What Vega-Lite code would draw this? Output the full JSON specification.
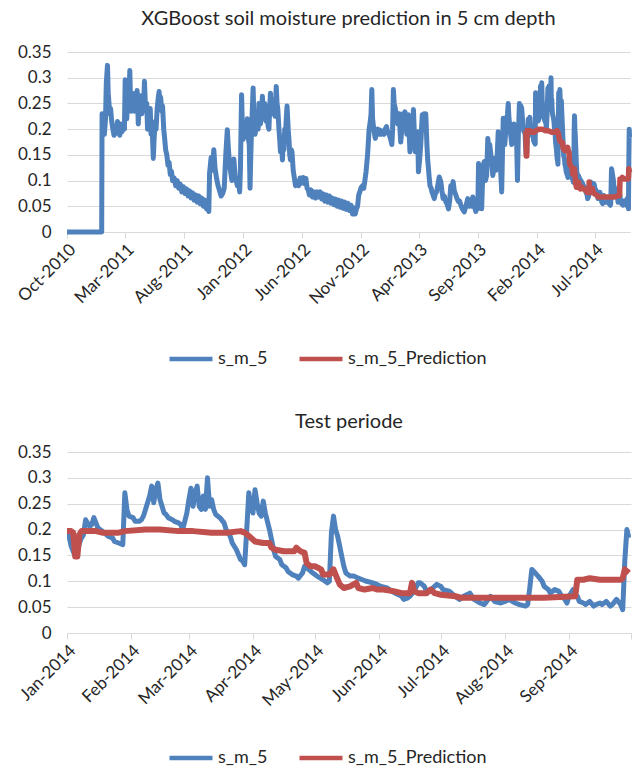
{
"$schema":"https://vega.github.io/schema/vega-lite/v6.json",
"background":"white",
"padding":{"left":14,"top":9,"right":8,"bottom":0},
"spacing":44,
"config":{"font":"Lato","view":{"stroke":null},
"axis":{"labelFont":"Lato","labelFontSize":17,"labelColor":"#262626","gridColor":"#D9D9D9","gridWidth":1.2,"domainColor":"#D9D9D9","tickColor":"#D9D9D9"},
"title":{"font":"Lato","fontSize":20,"fontWeight":"normal","color":"#262626","offset":14,"anchor":"middle","frame":"group"},
"legend":{"labelFont":"Lato"}},
"resolve":{"scale":{"color":"independent","x":"independent"},"legend":{"color":"independent"}},
"datasets":{
"obs":[
{"t":"2010-10-01","v":0},{"t":"2010-12-30","v":0},{"t":"2010-12-31","v":0.23},{"t":"2011-01-02","v":0.2},{"t":"2011-01-04","v":0.215},{"t":"2011-01-06","v":0.19},{"t":"2011-01-09","v":0.22},{"t":"2011-01-11","v":0.29},{"t":"2011-01-14","v":0.324},{"t":"2011-01-16","v":0.27},{"t":"2011-01-18","v":0.25},{"t":"2011-01-20","v":0.23},{"t":"2011-01-22","v":0.24},{"t":"2011-01-25","v":0.215},{"t":"2011-01-28","v":0.2},{"t":"2011-01-31","v":0.188},{"t":"2011-02-03","v":0.205},{"t":"2011-02-06","v":0.192},{"t":"2011-02-09","v":0.215},{"t":"2011-02-12","v":0.2},{"t":"2011-02-15","v":0.188},{"t":"2011-02-18","v":0.21},{"t":"2011-02-21","v":0.195},{"t":"2011-02-24","v":0.21},{"t":"2011-02-27","v":0.2},
{"t":"2011-03-01","v":0.296},{"t":"2011-03-03","v":0.235},{"t":"2011-03-05","v":0.22},{"t":"2011-03-08","v":0.262},{"t":"2011-03-10","v":0.245},{"t":"2011-03-13","v":0.314},{"t":"2011-03-15","v":0.25},{"t":"2011-03-17","v":0.235},{"t":"2011-03-19","v":0.27},{"t":"2011-03-21","v":0.245},{"t":"2011-03-23","v":0.265},{"t":"2011-03-25","v":0.235},{"t":"2011-03-28","v":0.27},{"t":"2011-03-30","v":0.25},{"t":"2011-04-01","v":0.275},{"t":"2011-04-04","v":0.21},{"t":"2011-04-06","v":0.25},{"t":"2011-04-08","v":0.235},{"t":"2011-04-11","v":0.265},{"t":"2011-04-13","v":0.23},{"t":"2011-04-16","v":0.262},{"t":"2011-04-18","v":0.25},{"t":"2011-04-20","v":0.293},{"t":"2011-04-22","v":0.255},{"t":"2011-04-24","v":0.235},{"t":"2011-04-26","v":0.25},{"t":"2011-04-28","v":0.2},{"t":"2011-04-30","v":0.235},
{"t":"2011-05-03","v":0.21},{"t":"2011-05-05","v":0.24},{"t":"2011-05-07","v":0.19},{"t":"2011-05-10","v":0.2},{"t":"2011-05-13","v":0.143},{"t":"2011-05-15","v":0.18},{"t":"2011-05-18","v":0.215},{"t":"2011-05-20","v":0.2},{"t":"2011-05-23","v":0.24},{"t":"2011-05-26","v":0.262},{"t":"2011-05-28","v":0.273},{"t":"2011-05-30","v":0.255},{"t":"2011-06-01","v":0.262},{"t":"2011-06-04","v":0.235},{"t":"2011-06-06","v":0.245},{"t":"2011-06-09","v":0.2},{"t":"2011-06-11","v":0.185},{"t":"2011-06-14","v":0.16},{"t":"2011-06-17","v":0.15},{"t":"2011-06-20","v":0.13},{"t":"2011-06-23","v":0.135},{"t":"2011-06-26","v":0.112},{"t":"2011-06-29","v":0.118},
{"t":"2011-07-02","v":0.1},{"t":"2011-07-06","v":0.105},{"t":"2011-07-10","v":0.09},{"t":"2011-07-14","v":0.1},{"t":"2011-07-18","v":0.085},{"t":"2011-07-22","v":0.093},{"t":"2011-07-26","v":0.078},{"t":"2011-07-30","v":0.088},{"t":"2011-08-03","v":0.075},{"t":"2011-08-07","v":0.084},{"t":"2011-08-11","v":0.07},{"t":"2011-08-15","v":0.08},{"t":"2011-08-19","v":0.066},{"t":"2011-08-23","v":0.076},{"t":"2011-08-27","v":0.062},{"t":"2011-08-31","v":0.072},{"t":"2011-09-04","v":0.058},{"t":"2011-09-08","v":0.07},{"t":"2011-09-12","v":0.055},{"t":"2011-09-16","v":0.066},{"t":"2011-09-20","v":0.05},{"t":"2011-09-24","v":0.062},{"t":"2011-09-28","v":0.045},{"t":"2011-10-02","v":0.055},{"t":"2011-10-04","v":0.04},
{"t":"2011-10-06","v":0.115},{"t":"2011-10-08","v":0.13},{"t":"2011-10-10","v":0.145},{"t":"2011-10-13","v":0.12},{"t":"2011-10-17","v":0.16},{"t":"2011-10-20","v":0.125},{"t":"2011-10-24","v":0.105},{"t":"2011-10-28","v":0.09},{"t":"2011-11-01","v":0.08},{"t":"2011-11-05","v":0.07},{"t":"2011-11-09","v":0.075},{"t":"2011-11-13","v":0.085},{"t":"2011-11-17","v":0.15},{"t":"2011-11-21","v":0.199},{"t":"2011-11-24","v":0.16},{"t":"2011-11-27","v":0.13},{"t":"2011-11-30","v":0.115},{"t":"2011-12-03","v":0.1},{"t":"2011-12-06","v":0.125},{"t":"2011-12-08","v":0.142},{"t":"2011-12-11","v":0.11},{"t":"2011-12-14","v":0.1},{"t":"2011-12-17","v":0.09},{"t":"2011-12-20","v":0.103},{"t":"2011-12-23","v":0.078},{"t":"2011-12-25","v":0.12},{"t":"2011-12-28","v":0.267},{"t":"2011-12-30","v":0.21},
{"t":"2012-01-01","v":0.18},{"t":"2012-01-04","v":0.195},{"t":"2012-01-07","v":0.2},{"t":"2012-01-10","v":0.185},{"t":"2012-01-12","v":0.22},{"t":"2012-01-15","v":0.18},{"t":"2012-01-17","v":0.17},{"t":"2012-01-19","v":0.085},{"t":"2012-01-21","v":0.15},{"t":"2012-01-23","v":0.2},{"t":"2012-01-25","v":0.24},{"t":"2012-01-27","v":0.28},{"t":"2012-01-29","v":0.22},{"t":"2012-02-01","v":0.19},{"t":"2012-02-04","v":0.205},{"t":"2012-02-07","v":0.21},{"t":"2012-02-09","v":0.2},{"t":"2012-02-11","v":0.25},{"t":"2012-02-13","v":0.225},{"t":"2012-02-15","v":0.21},{"t":"2012-02-18","v":0.225},{"t":"2012-02-20","v":0.264},{"t":"2012-02-22","v":0.235},{"t":"2012-02-24","v":0.22},{"t":"2012-02-26","v":0.25},{"t":"2012-02-28","v":0.24},
{"t":"2012-03-01","v":0.215},{"t":"2012-03-04","v":0.225},{"t":"2012-03-06","v":0.205},{"t":"2012-03-08","v":0.2},{"t":"2012-03-10","v":0.24},{"t":"2012-03-12","v":0.27},{"t":"2012-03-14","v":0.235},{"t":"2012-03-17","v":0.23},{"t":"2012-03-19","v":0.255},{"t":"2012-03-21","v":0.25},{"t":"2012-03-24","v":0.225},{"t":"2012-03-27","v":0.283},{"t":"2012-03-29","v":0.25},{"t":"2012-03-31","v":0.24},{"t":"2012-04-03","v":0.2},{"t":"2012-04-05","v":0.18},{"t":"2012-04-07","v":0.156},{"t":"2012-04-10","v":0.17},{"t":"2012-04-12","v":0.14},{"t":"2012-04-14","v":0.175},{"t":"2012-04-16","v":0.16},{"t":"2012-04-18","v":0.2},{"t":"2012-04-20","v":0.19},{"t":"2012-04-22","v":0.22},{"t":"2012-04-24","v":0.245},{"t":"2012-04-27","v":0.2},{"t":"2012-04-29","v":0.18},
{"t":"2012-05-01","v":0.15},{"t":"2012-05-03","v":0.14},{"t":"2012-05-05","v":0.16},{"t":"2012-05-07","v":0.155},{"t":"2012-05-10","v":0.12},{"t":"2012-05-12","v":0.11},{"t":"2012-05-14","v":0.1},{"t":"2012-05-16","v":0.09},{"t":"2012-05-20","v":0.098},{"t":"2012-05-24","v":0.09},{"t":"2012-05-28","v":0.105},{"t":"2012-06-01","v":0.095},{"t":"2012-06-05","v":0.106},{"t":"2012-06-09","v":0.094},{"t":"2012-06-12","v":0.104},{"t":"2012-06-15","v":0.085},{"t":"2012-06-18","v":0.082},{"t":"2012-06-21","v":0.072},{"t":"2012-06-25","v":0.082},{"t":"2012-06-29","v":0.068},{"t":"2012-07-03","v":0.078},{"t":"2012-07-07","v":0.066},{"t":"2012-07-11","v":0.078},{"t":"2012-07-15","v":0.068},{"t":"2012-07-19","v":0.078},{"t":"2012-07-23","v":0.064},{"t":"2012-07-27","v":0.074},{"t":"2012-07-31","v":0.06},
{"t":"2012-08-04","v":0.072},{"t":"2012-08-08","v":0.058},{"t":"2012-08-12","v":0.07},{"t":"2012-08-16","v":0.056},{"t":"2012-08-20","v":0.066},{"t":"2012-08-24","v":0.053},{"t":"2012-08-28","v":0.064},{"t":"2012-09-01","v":0.05},{"t":"2012-09-05","v":0.062},{"t":"2012-09-09","v":0.048},{"t":"2012-09-13","v":0.06},{"t":"2012-09-17","v":0.046},{"t":"2012-09-21","v":0.058},{"t":"2012-09-25","v":0.044},{"t":"2012-09-29","v":0.056},{"t":"2012-10-03","v":0.042},{"t":"2012-10-07","v":0.052},{"t":"2012-10-11","v":0.035},{"t":"2012-10-15","v":0.047},{"t":"2012-10-18","v":0.035},{"t":"2012-10-21","v":0.045},{"t":"2012-10-24","v":0.05},{"t":"2012-10-27","v":0.072},{"t":"2012-10-30","v":0.078},
{"t":"2012-11-02","v":0.086},{"t":"2012-11-06","v":0.09},{"t":"2012-11-09","v":0.085},{"t":"2012-11-12","v":0.1},{"t":"2012-11-15","v":0.117},{"t":"2012-11-19","v":0.15},{"t":"2012-11-23","v":0.2},{"t":"2012-11-26","v":0.215},{"t":"2012-11-28","v":0.23},{"t":"2012-11-30","v":0.277},{"t":"2012-12-02","v":0.22},{"t":"2012-12-05","v":0.2},{"t":"2012-12-09","v":0.182},{"t":"2012-12-12","v":0.195},{"t":"2012-12-15","v":0.2},{"t":"2012-12-18","v":0.19},{"t":"2012-12-21","v":0.198},{"t":"2012-12-24","v":0.19},{"t":"2012-12-28","v":0.196},
{"t":"2013-01-01","v":0.19},{"t":"2013-01-04","v":0.2},{"t":"2013-01-07","v":0.205},{"t":"2013-01-10","v":0.195},{"t":"2013-01-14","v":0.19},{"t":"2013-01-18","v":0.18},{"t":"2013-01-21","v":0.17},{"t":"2013-01-23","v":0.2},{"t":"2013-01-25","v":0.277},{"t":"2013-01-27","v":0.25},{"t":"2013-01-30","v":0.24},{"t":"2013-02-02","v":0.225},{"t":"2013-02-05","v":0.21},{"t":"2013-02-07","v":0.23},{"t":"2013-02-09","v":0.23},{"t":"2013-02-11","v":0.2},{"t":"2013-02-13","v":0.175},{"t":"2013-02-16","v":0.2},{"t":"2013-02-19","v":0.23},{"t":"2013-02-22","v":0.21},{"t":"2013-02-24","v":0.234},{"t":"2013-02-27","v":0.21},
{"t":"2013-03-01","v":0.19},{"t":"2013-03-03","v":0.21},{"t":"2013-03-05","v":0.228},{"t":"2013-03-07","v":0.19},{"t":"2013-03-09","v":0.156},{"t":"2013-03-12","v":0.18},{"t":"2013-03-14","v":0.17},{"t":"2013-03-16","v":0.2},{"t":"2013-03-18","v":0.238},{"t":"2013-03-20","v":0.2},{"t":"2013-03-23","v":0.156},{"t":"2013-03-26","v":0.18},{"t":"2013-03-29","v":0.195},{"t":"2013-03-31","v":0.117},{"t":"2013-04-03","v":0.14},{"t":"2013-04-06","v":0.17},{"t":"2013-04-08","v":0.2},{"t":"2013-04-10","v":0.228},{"t":"2013-04-13","v":0.2},{"t":"2013-04-15","v":0.23},{"t":"2013-04-17","v":0.21},{"t":"2013-04-19","v":0.23},{"t":"2013-04-22","v":0.17},{"t":"2013-04-24","v":0.14},{"t":"2013-04-26","v":0.124},{"t":"2013-04-28","v":0.105},{"t":"2013-04-30","v":0.09},
{"t":"2013-05-03","v":0.085},{"t":"2013-05-05","v":0.078},{"t":"2013-05-08","v":0.072},{"t":"2013-05-11","v":0.065},{"t":"2013-05-14","v":0.075},{"t":"2013-05-17","v":0.078},{"t":"2013-05-20","v":0.09},{"t":"2013-05-24","v":0.107},{"t":"2013-05-28","v":0.098},{"t":"2013-05-31","v":0.08},{"t":"2013-06-03","v":0.065},{"t":"2013-06-06","v":0.07},{"t":"2013-06-10","v":0.059},{"t":"2013-06-13","v":0.055},{"t":"2013-06-17","v":0.045},{"t":"2013-06-20","v":0.06},{"t":"2013-06-23","v":0.09},{"t":"2013-06-26","v":0.085},{"t":"2013-06-29","v":0.098},{"t":"2013-07-02","v":0.08},{"t":"2013-07-06","v":0.072},{"t":"2013-07-09","v":0.065},{"t":"2013-07-13","v":0.059},{"t":"2013-07-16","v":0.06},{"t":"2013-07-19","v":0.052},{"t":"2013-07-23","v":0.045},{"t":"2013-07-28","v":0.039},
{"t":"2013-08-01","v":0.05},{"t":"2013-08-06","v":0.065},{"t":"2013-08-10","v":0.05},{"t":"2013-08-14","v":0.059},{"t":"2013-08-17","v":0.05},{"t":"2013-08-19","v":0.068},{"t":"2013-08-23","v":0.05},{"t":"2013-08-27","v":0.04},{"t":"2013-08-30","v":0.05},{"t":"2013-09-01","v":0.045},{"t":"2013-09-03","v":0.133},{"t":"2013-09-06","v":0.12},{"t":"2013-09-09","v":0.1},{"t":"2013-09-11","v":0.045},{"t":"2013-09-13","v":0.09},{"t":"2013-09-15","v":0.13},{"t":"2013-09-18","v":0.137},{"t":"2013-09-21","v":0.1},{"t":"2013-09-24","v":0.11},{"t":"2013-09-27","v":0.182},{"t":"2013-09-30","v":0.16},
{"t":"2013-10-02","v":0.17},{"t":"2013-10-05","v":0.15},{"t":"2013-10-07","v":0.137},{"t":"2013-10-10","v":0.11},{"t":"2013-10-13","v":0.125},{"t":"2013-10-15","v":0.143},{"t":"2013-10-18","v":0.12},{"t":"2013-10-20","v":0.13},{"t":"2013-10-22","v":0.16},{"t":"2013-10-24","v":0.195},{"t":"2013-10-26","v":0.17},{"t":"2013-10-28","v":0.15},{"t":"2013-10-31","v":0.11},{"t":"2013-11-02","v":0.078},{"t":"2013-11-04","v":0.15},{"t":"2013-11-06","v":0.221},{"t":"2013-11-08","v":0.19},{"t":"2013-11-10","v":0.17},{"t":"2013-11-13","v":0.2},{"t":"2013-11-15","v":0.215},{"t":"2013-11-17","v":0.23},{"t":"2013-11-19","v":0.25},{"t":"2013-11-21","v":0.22},{"t":"2013-11-23","v":0.208},{"t":"2013-11-26","v":0.185},{"t":"2013-11-28","v":0.17},{"t":"2013-11-30","v":0.19},
{"t":"2013-12-02","v":0.2},{"t":"2013-12-04","v":0.21},{"t":"2013-12-06","v":0.195},{"t":"2013-12-09","v":0.18},{"t":"2013-12-11","v":0.17},{"t":"2013-12-13","v":0.1},{"t":"2013-12-15","v":0.18},{"t":"2013-12-18","v":0.25},{"t":"2013-12-20","v":0.235},{"t":"2013-12-22","v":0.245},{"t":"2013-12-24","v":0.24},{"t":"2013-12-26","v":0.22},{"t":"2013-12-28","v":0.2},{"t":"2013-12-30","v":0.195},
{"t":"2014-01-01","v":0.194},{"t":"2014-01-02","v":0.187},{"t":"2014-01-03","v":0.168},{"t":"2014-01-05","v":0.148},{"t":"2014-01-06","v":0.155},{"t":"2014-01-07","v":0.174},{"t":"2014-01-08","v":0.184},{"t":"2014-01-09","v":0.19},{"t":"2014-01-10","v":0.219},{"t":"2014-01-12","v":0.206},{"t":"2014-01-13","v":0.21},{"t":"2014-01-14","v":0.223},{"t":"2014-01-15","v":0.213},{"t":"2014-01-16","v":0.203},{"t":"2014-01-18","v":0.197},{"t":"2014-01-19","v":0.194},{"t":"2014-01-21","v":0.187},{"t":"2014-01-23","v":0.184},{"t":"2014-01-24","v":0.177},{"t":"2014-01-26","v":0.174},{"t":"2014-01-28","v":0.171},{"t":"2014-01-29","v":0.271},{"t":"2014-01-30","v":0.239},{"t":"2014-01-31","v":0.226},
{"t":"2014-02-02","v":0.223},{"t":"2014-02-03","v":0.216},{"t":"2014-02-05","v":0.216},{"t":"2014-02-06","v":0.219},{"t":"2014-02-07","v":0.226},{"t":"2014-02-08","v":0.239},{"t":"2014-02-09","v":0.252},{"t":"2014-02-10","v":0.265},{"t":"2014-02-11","v":0.284},{"t":"2014-02-12","v":0.252},{"t":"2014-02-13","v":0.277},{"t":"2014-02-14","v":0.29},{"t":"2014-02-15","v":0.258},{"t":"2014-02-16","v":0.245},{"t":"2014-02-17","v":0.232},{"t":"2014-02-18","v":0.229},{"t":"2014-02-19","v":0.223},{"t":"2014-02-21","v":0.219},{"t":"2014-02-22","v":0.216},{"t":"2014-02-24","v":0.213},{"t":"2014-02-25","v":0.21},{"t":"2014-02-26","v":0.2},{"t":"2014-02-27","v":0.216},{"t":"2014-02-28","v":0.232},
{"t":"2014-03-01","v":0.258},{"t":"2014-03-02","v":0.28},{"t":"2014-03-03","v":0.245},{"t":"2014-03-04","v":0.271},{"t":"2014-03-05","v":0.284},{"t":"2014-03-06","v":0.245},{"t":"2014-03-07","v":0.239},{"t":"2014-03-08","v":0.265},{"t":"2014-03-09","v":0.239},{"t":"2014-03-10","v":0.3},{"t":"2014-03-11","v":0.245},{"t":"2014-03-12","v":0.258},{"t":"2014-03-13","v":0.239},{"t":"2014-03-14","v":0.229},{"t":"2014-03-16","v":0.223},{"t":"2014-03-18","v":0.213},{"t":"2014-03-19","v":0.2},{"t":"2014-03-21","v":0.187},{"t":"2014-03-22","v":0.174},{"t":"2014-03-24","v":0.161},{"t":"2014-03-26","v":0.142},{"t":"2014-03-27","v":0.139},{"t":"2014-03-28","v":0.132},{"t":"2014-03-29","v":0.2},{"t":"2014-03-30","v":0.271},{"t":"2014-03-31","v":0.245},
{"t":"2014-04-01","v":0.232},{"t":"2014-04-02","v":0.277},{"t":"2014-04-03","v":0.252},{"t":"2014-04-04","v":0.232},{"t":"2014-04-05","v":0.226},{"t":"2014-04-06","v":0.255},{"t":"2014-04-07","v":0.232},{"t":"2014-04-08","v":0.216},{"t":"2014-04-09","v":0.2},{"t":"2014-04-10","v":0.181},{"t":"2014-04-11","v":0.161},{"t":"2014-04-12","v":0.148},{"t":"2014-04-14","v":0.142},{"t":"2014-04-15","v":0.132},{"t":"2014-04-17","v":0.126},{"t":"2014-04-18","v":0.119},{"t":"2014-04-20","v":0.113},{"t":"2014-04-22","v":0.11},{"t":"2014-04-23","v":0.106},{"t":"2014-04-25","v":0.116},{"t":"2014-04-26","v":0.129},{"t":"2014-04-28","v":0.123},{"t":"2014-04-30","v":0.116},
{"t":"2014-05-02","v":0.11},{"t":"2014-05-05","v":0.103},{"t":"2014-05-07","v":0.097},{"t":"2014-05-08","v":0.1},{"t":"2014-05-09","v":0.194},{"t":"2014-05-10","v":0.226},{"t":"2014-05-11","v":0.2},{"t":"2014-05-12","v":0.187},{"t":"2014-05-13","v":0.168},{"t":"2014-05-14","v":0.148},{"t":"2014-05-15","v":0.129},{"t":"2014-05-16","v":0.116},{"t":"2014-05-18","v":0.11},{"t":"2014-05-20","v":0.11},{"t":"2014-05-22","v":0.106},{"t":"2014-05-24","v":0.103},{"t":"2014-05-26","v":0.1},{"t":"2014-05-29","v":0.097},{"t":"2014-05-31","v":0.094},
{"t":"2014-06-02","v":0.09},{"t":"2014-06-05","v":0.087},{"t":"2014-06-07","v":0.081},{"t":"2014-06-09","v":0.077},{"t":"2014-06-12","v":0.071},{"t":"2014-06-13","v":0.065},{"t":"2014-06-15","v":0.068},{"t":"2014-06-16","v":0.071},{"t":"2014-06-18","v":0.081},{"t":"2014-06-20","v":0.097},{"t":"2014-06-21","v":0.097},{"t":"2014-06-23","v":0.09},{"t":"2014-06-24","v":0.081},{"t":"2014-06-26","v":0.081},{"t":"2014-06-27","v":0.087},{"t":"2014-06-29","v":0.094},
{"t":"2014-07-01","v":0.09},{"t":"2014-07-02","v":0.084},{"t":"2014-07-05","v":0.081},{"t":"2014-07-07","v":0.074},{"t":"2014-07-10","v":0.065},{"t":"2014-07-12","v":0.071},{"t":"2014-07-15","v":0.077},{"t":"2014-07-17","v":0.065},{"t":"2014-07-20","v":0.058},{"t":"2014-07-22","v":0.055},{"t":"2014-07-25","v":0.071},{"t":"2014-07-27","v":0.061},{"t":"2014-07-30","v":0.058},
{"t":"2014-08-01","v":0.061},{"t":"2014-08-03","v":0.065},{"t":"2014-08-06","v":0.058},{"t":"2014-08-08","v":0.055},{"t":"2014-08-11","v":0.052},{"t":"2014-08-12","v":0.055},{"t":"2014-08-13","v":0.087},{"t":"2014-08-14","v":0.123},{"t":"2014-08-15","v":0.119},{"t":"2014-08-17","v":0.11},{"t":"2014-08-19","v":0.1},{"t":"2014-08-20","v":0.09},{"t":"2014-08-22","v":0.084},{"t":"2014-08-23","v":0.077},{"t":"2014-08-25","v":0.084},{"t":"2014-08-27","v":0.081},{"t":"2014-08-28","v":0.074},{"t":"2014-08-30","v":0.065},{"t":"2014-08-31","v":0.058},
{"t":"2014-09-01","v":0.071},{"t":"2014-09-03","v":0.084},{"t":"2014-09-04","v":0.074},{"t":"2014-09-05","v":0.071},{"t":"2014-09-06","v":0.061},{"t":"2014-09-08","v":0.058},{"t":"2014-09-09","v":0.055},{"t":"2014-09-11","v":0.061},{"t":"2014-09-13","v":0.052},{"t":"2014-09-14","v":0.055},{"t":"2014-09-16","v":0.058},{"t":"2014-09-17","v":0.055},{"t":"2014-09-19","v":0.061},{"t":"2014-09-21","v":0.052},{"t":"2014-09-22","v":0.055},{"t":"2014-09-24","v":0.065},{"t":"2014-09-26","v":0.055},{"t":"2014-09-27","v":0.045},{"t":"2014-09-28","v":0.14},{"t":"2014-09-29","v":0.2},{"t":"2014-09-30","v":0.184}
],
"pred":[
{"t":"2014-01-01","v":0.197},{"t":"2014-01-03","v":0.197},{"t":"2014-01-04","v":0.194},{"t":"2014-01-05","v":0.148},{"t":"2014-01-06","v":0.148},{"t":"2014-01-07","v":0.19},{"t":"2014-01-08","v":0.197},{"t":"2014-01-15","v":0.197},{"t":"2014-01-18","v":0.194},{"t":"2014-01-26","v":0.194},{"t":"2014-01-29","v":0.197},{"t":"2014-02-08","v":0.2},{"t":"2014-02-15","v":0.2},{"t":"2014-02-24","v":0.197},{"t":"2014-03-03","v":0.197},{"t":"2014-03-12","v":0.194},{"t":"2014-03-19","v":0.194},{"t":"2014-03-26","v":0.197},{"t":"2014-03-28","v":0.194},{"t":"2014-03-30","v":0.188},{"t":"2014-03-31","v":0.184},
{"t":"2014-04-02","v":0.177},{"t":"2014-04-06","v":0.174},{"t":"2014-04-09","v":0.174},{"t":"2014-04-10","v":0.165},{"t":"2014-04-12","v":0.161},{"t":"2014-04-16","v":0.158},{"t":"2014-04-21","v":0.158},{"t":"2014-04-22","v":0.165},{"t":"2014-04-24","v":0.158},{"t":"2014-04-26","v":0.155},{"t":"2014-04-27","v":0.135},{"t":"2014-04-29","v":0.129},{"t":"2014-05-01","v":0.129},{"t":"2014-05-04","v":0.123},{"t":"2014-05-05","v":0.113},{"t":"2014-05-08","v":0.113},{"t":"2014-05-10","v":0.123},{"t":"2014-05-11","v":0.113},{"t":"2014-05-13","v":0.094},{"t":"2014-05-15","v":0.087},{"t":"2014-05-18","v":0.09},{"t":"2014-05-21","v":0.097},{"t":"2014-05-22","v":0.087},{"t":"2014-05-25","v":0.084},{"t":"2014-05-29","v":0.087},{"t":"2014-05-31","v":0.084},
{"t":"2014-06-03","v":0.084},{"t":"2014-06-08","v":0.081},{"t":"2014-06-12","v":0.077},{"t":"2014-06-16","v":0.077},{"t":"2014-06-17","v":0.097},{"t":"2014-06-18","v":0.081},{"t":"2014-06-20","v":0.077},{"t":"2014-06-24","v":0.077},{"t":"2014-06-26","v":0.084},{"t":"2014-06-28","v":0.077},{"t":"2014-07-01","v":0.074},{"t":"2014-07-08","v":0.071},{"t":"2014-07-11","v":0.068},{"t":"2014-08-01","v":0.068},{"t":"2014-08-20","v":0.068},{"t":"2014-09-04","v":0.071},{"t":"2014-09-05","v":0.103},{"t":"2014-09-08","v":0.103},{"t":"2014-09-11","v":0.106},{"t":"2014-09-16","v":0.103},{"t":"2014-09-26","v":0.103},{"t":"2014-09-27","v":0.106},{"t":"2014-09-28","v":0.123},{"t":"2014-09-30","v":0.116}
]},
"vconcat":[
{"title":{"text":"XGBoost soil moisture prediction in 5 cm depth"},
"width":563,"height":180,
"encoding":{
"x":{"field":"t","type":"temporal","title":null,"scale":{"type":"utc","domain":[{"year":2010,"month":10,"date":1,"utc":true},{"year":2014,"month":10,"date":1,"utc":true}]},
"axis":{"format":"%b-%Y","labelAngle":-45,"labelAlign":"right","labelBaseline":"top","labelOverlap":false,"grid":false,"tickSize":6,"labelPadding":3,"values":[{"year":2010,"month":10,"date":1,"utc":true},{"year":2011,"month":3,"date":1,"utc":true},{"year":2011,"month":8,"date":1,"utc":true},{"year":2012,"month":1,"date":1,"utc":true},{"year":2012,"month":6,"date":1,"utc":true},{"year":2012,"month":11,"date":1,"utc":true},{"year":2013,"month":4,"date":1,"utc":true},{"year":2013,"month":9,"date":1,"utc":true},{"year":2014,"month":2,"date":1,"utc":true},{"year":2014,"month":7,"date":1,"utc":true}]}},
"y":{"field":"v","type":"quantitative","title":null,"scale":{"domain":[0,0.35]},"axis":{"values":[0,0.05,0.1,0.15,0.2,0.25,0.3,0.35],"format":"~g","domain":false,"ticks":false,"labelPadding":16}}
},
"layer":[
{"data":{"name":"obs"},"mark":{"type":"line","strokeWidth":5,"strokeJoin":"round"},
"encoding":{"color":{"datum":"s_m_5","type":"nominal","scale":{"domain":["s_m_5","s_m_5_Prediction"],"range":["#4F81BD","#C0504D"]},
"legend":{"orient":"none","legendX":100,"legendY":283,"direction":"horizontal","title":null,"symbolType":"stroke","symbolSize":1850,"symbolStrokeWidth":4.5,"labelFontSize":18,"labelColor":"#262626","labelOffset":3,"columnPadding":22}}}},
{"data":{"name":"pred"},"mark":{"type":"line","strokeWidth":5.5,"strokeJoin":"round"},
"encoding":{"color":{"datum":"s_m_5_Prediction","type":"nominal"}}}
]},
{"title":{"text":"Test periode","offset":11},
"width":564,"height":181,
"encoding":{
"x":{"field":"t","type":"temporal","title":null,"scale":{"type":"utc","domain":[{"year":2014,"month":1,"date":1,"utc":true},{"year":2014,"month":10,"date":1,"utc":true}]},
"axis":{"format":"%b-%Y","labelAngle":-45,"labelAlign":"right","labelBaseline":"top","labelOverlap":false,"grid":false,"tickSize":6,"labelPadding":3,"labelExpr":"utcmonth(datum.value) == 9 ? '' : datum.label","values":[{"year":2014,"month":1,"date":1,"utc":true},{"year":2014,"month":2,"date":1,"utc":true},{"year":2014,"month":3,"date":1,"utc":true},{"year":2014,"month":4,"date":1,"utc":true},{"year":2014,"month":5,"date":1,"utc":true},{"year":2014,"month":6,"date":1,"utc":true},{"year":2014,"month":7,"date":1,"utc":true},{"year":2014,"month":8,"date":1,"utc":true},{"year":2014,"month":9,"date":1,"utc":true},{"year":2014,"month":10,"date":1,"utc":true}]}},
"y":{"field":"v","type":"quantitative","title":null,"scale":{"domain":[0,0.35]},"axis":{"values":[0,0.05,0.1,0.15,0.2,0.25,0.3,0.35],"format":"~g","domain":false,"ticks":false,"labelPadding":16}}
},
"layer":[
{"data":{"name":"obs"},"mark":{"type":"line","strokeWidth":5,"strokeJoin":"round","clip":true},
"encoding":{"color":{"datum":"s_m_5","type":"nominal","scale":{"domain":["s_m_5","s_m_5_Prediction"],"range":["#4F81BD","#C0504D"]},
"legend":{"orient":"none","legendX":100,"legendY":282,"direction":"horizontal","title":null,"symbolType":"stroke","symbolSize":1850,"symbolStrokeWidth":4.5,"labelFontSize":18,"labelColor":"#262626","labelOffset":3,"columnPadding":22}}}},
{"data":{"name":"pred"},"mark":{"type":"line","strokeWidth":6,"strokeJoin":"round","clip":true},
"encoding":{"color":{"datum":"s_m_5_Prediction","type":"nominal"}}}
]}
]
}
